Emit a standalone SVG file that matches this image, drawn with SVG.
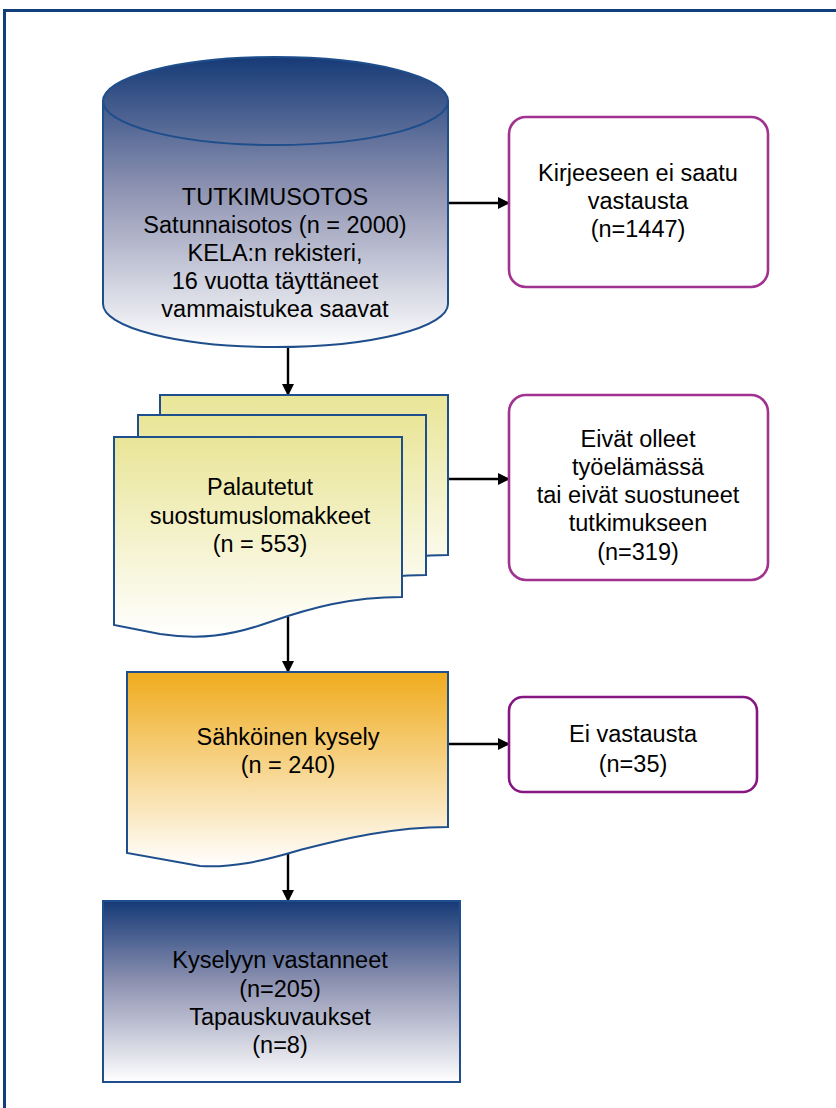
<svg xmlns="http://www.w3.org/2000/svg" width="836" height="1108" viewBox="0 0 836 1108">
<style>
  .t { font-family: "Liberation Sans", Arial, sans-serif; font-size: 23.5px; fill: #000; text-anchor: middle; }
  .edge { stroke: #000; stroke-width: 2.4; fill: none; marker-end: url(#arr); }
  .navy { stroke: #1f4e8c; stroke-width: 2; }
  .box { fill: #fff; stroke-width: 2.6; }
</style>
<defs>
  <marker id="arr" markerWidth="12" markerHeight="12" refX="11" refY="6" orient="auto" markerUnits="userSpaceOnUse">
    <path d="M0,0 L12,6 L0,12 Z" fill="#000"/>
  </marker>
  <linearGradient id="gNavyCyl" x1="0" y1="57" x2="0" y2="348" gradientUnits="userSpaceOnUse">
    <stop offset="0" stop-color="#163a77"/>
    <stop offset="0.45" stop-color="#8d92b1"/>
    <stop offset="1" stop-color="#ffffff"/>
  </linearGradient>
  <linearGradient id="gNavyBox" x1="0" y1="0" x2="0" y2="1">
    <stop offset="0" stop-color="#163a77"/>
    <stop offset="0.45" stop-color="#8d92b1"/>
    <stop offset="1" stop-color="#ffffff"/>
  </linearGradient>
  <linearGradient id="gYellow" x1="0" y1="0" x2="0" y2="1">
    <stop offset="0" stop-color="#e9e597"/>
    <stop offset="1" stop-color="#ffffff"/>
  </linearGradient>
  <linearGradient id="gOrange" x1="0" y1="0" x2="0" y2="1">
    <stop offset="0" stop-color="#efab1c"/>
    <stop offset="1" stop-color="#ffffff"/>
  </linearGradient>
  <path id="docShape" d="M114,437 H402 V597 C350,597 310,608 270,622 C230,636 200,640 160,634 L114,625 Z"/>
</defs>

<rect x="4.5" y="10.5" width="845" height="1120" fill="none" stroke="#123f7c" stroke-width="3"/>

<g id="connectors">
  <line class="edge" x1="448" y1="203" x2="509" y2="203"/>
  <line class="edge" x1="288" y1="348" x2="288" y2="395"/>
  <line class="edge" x1="448" y1="479" x2="509" y2="479"/>
  <line class="edge" x1="288" y1="617" x2="288" y2="672"/>
  <line class="edge" x1="448" y1="744" x2="509" y2="744"/>
  <line class="edge" x1="288" y1="852" x2="288" y2="901"/>
</g>

<g id="n-tutkimusotos">
  <path class="navy" fill="url(#gNavyCyl)" d="M103,101 V304 A172.5,43 0 0 0 448,304 V101 Z"/>
  <ellipse class="navy" cx="275.5" cy="101" rx="172.5" ry="44" fill="url(#gNavyCyl)"/>
  <text class="t" x="275" y="205">TUTKIMUSOTOS</text>
  <text class="t" x="275" y="233">Satunnaisotos (n = 2000)</text>
  <text class="t" x="275" y="261">KELA:n rekisteri,</text>
  <text class="t" x="275" y="289">16 vuotta täyttäneet</text>
  <text class="t" x="275" y="317">vammaistukea saavat</text>
</g>

<g id="n-kirjeeseen">
  <rect class="box" x="509" y="117" width="259" height="170" rx="17" stroke="#a0338f"/>
  <text class="t" x="638" y="181">Kirjeeseen ei saatu</text>
  <text class="t" x="638" y="209">vastausta</text>
  <text class="t" x="638" y="237">(n=1447)</text>
</g>

<g id="n-palautetut">
  <use href="#docShape" transform="translate(46,-42)" fill="url(#gYellow)" class="navy"/>
  <use href="#docShape" transform="translate(24,-22)" fill="url(#gYellow)" class="navy"/>
  <use href="#docShape" fill="url(#gYellow)" class="navy"/>
  <text class="t" x="260" y="495">Palautetut</text>
  <text class="t" x="260" y="524">suostumuslomakkeet</text>
  <text class="t" x="260" y="552">(n = 553)</text>
</g>

<g id="n-eivat">
  <rect class="box" x="509" y="395" width="259" height="185" rx="17" stroke="#a0338f"/>
  <text class="t" x="638" y="447">Eivät olleet</text>
  <text class="t" x="638" y="475">työelämässä</text>
  <text class="t" x="638" y="503">tai eivät suostuneet</text>
  <text class="t" x="638" y="531">tutkimukseen</text>
  <text class="t" x="638" y="560">(n=319)</text>
</g>

<g id="n-sahkoinen">
  <path class="navy" fill="url(#gOrange)" d="M127,672 H448 V827 C390,827 340,840 300,850 C260,862 230,868 200,866 L127,853 Z"/>
  <text class="t" x="288" y="745">Sähköinen kysely</text>
  <text class="t" x="288" y="773">(n = 240)</text>
</g>

<g id="n-eivastausta">
  <rect class="box" x="509" y="697" width="248" height="95" rx="14" stroke="#841781"/>
  <text class="t" x="633" y="742">Ei vastausta</text>
  <text class="t" x="633" y="772">(n=35)</text>
</g>

<g id="n-kyselyyn">
  <rect class="navy" x="103" y="901" width="357" height="181" fill="url(#gNavyBox)"/>
  <text class="t" x="280" y="968">Kyselyyn vastanneet</text>
  <text class="t" x="280" y="997">(n=205)</text>
  <text class="t" x="280" y="1025">Tapauskuvaukset</text>
  <text class="t" x="280" y="1053">(n=8)</text>
</g>
</svg>
